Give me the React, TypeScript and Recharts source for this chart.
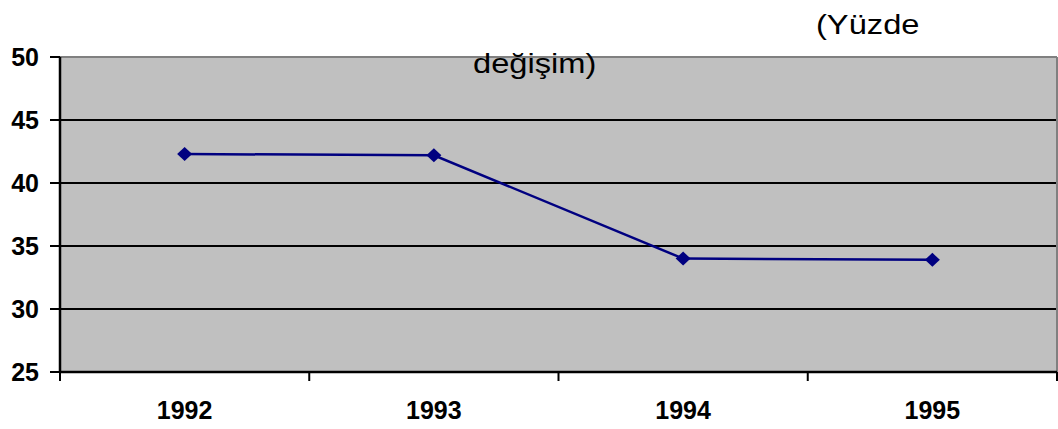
import { LineChart, Line, XAxis, YAxis, CartesianGrid, ReferenceLine } from "recharts";

const years = ["1992", "1993", "1994", "1995"];
const changeValues = [42.3, 42.2, 34.0, 33.9];
const yTicks = [25, 30, 35, 40, 45, 50];
const titleLines = ["(Yüzde", "değişim)"];

const data = years.map((year, i) => ({ pos: i + 0.5, year, value: changeValues[i] }));
const xTicks: number[] = [];
for (let i = 0; i <= years.length * 2; i++) xTicks.push(i / 2);

const font = "'Liberation Sans', Arial, sans-serif";

const XTick = (props: any) => {
    const { x, y, payload } = props;
    const v = payload.value;
    if (Number.isInteger(v)) {
        return <line x1={x} x2={x} y1={y} y2={y + 9} stroke="#000" strokeWidth={2} />;
    }
    const label = years[Math.floor(v)];
    return (
        <text x={x} y={y + 47} textAnchor="middle" fontFamily={font} fontWeight="bold" fontSize={25} fill="#000">
            {label}
        </text>
    );
};

const Diamond = (props: any) => {
    const { cx, cy } = props;
    if (cx == null || cy == null) return null;
    return <path d={`M${cx - 7.5},${cy} L${cx},${cy - 7} L${cx + 7.5},${cy} L${cx},${cy + 7} Z`} fill="#000080" />;
};

export default function App() {
    return (
        <div style={{ position: "absolute", left: 0, top: 0, width: 1058, height: 429, background: "#fff" }}>
            <LineChart width={1058} height={429} data={data} margin={{ top: 57, right: 1, bottom: 0, left: 0 }}>
                <CartesianGrid fill="#C0C0C0" stroke="#000" strokeWidth={2} vertical={false} />
                <ReferenceLine y={50} stroke="#808080" strokeWidth={2} />
                <ReferenceLine x={years.length} stroke="#808080" strokeWidth={2} />
                <XAxis
                    dataKey="pos"
                    type="number"
                    domain={[0, years.length]}
                    ticks={xTicks}
                    interval={0}
                    height={57}
                    tickSize={0}
                    tickMargin={0}
                    tickLine={false}
                    axisLine={{ stroke: "#000", strokeWidth: 2.5 }}
                    tick={<XTick />}
                />
                <YAxis
                    domain={[25, 50]}
                    ticks={yTicks}
                    interval={0}
                    width={60}
                    tickSize={10}
                    tickMargin={11}
                    tickLine={{ stroke: "#000", strokeWidth: 2 }}
                    axisLine={{ stroke: "#000", strokeWidth: 2.5 }}
                    tick={{ fontFamily: font, fontWeight: "bold", fontSize: 25, fill: "#000" }}
                />
                <Line
                    dataKey="value"
                    stroke="#000080"
                    strokeWidth={2.5}
                    dot={<Diamond />}
                    activeDot={false}
                    isAnimationActive={false}
                />
            </LineChart>
            <svg width={1058} height={429} style={{ position: "absolute", left: 0, top: 0, pointerEvents: "none" }}>
                <text transform="translate(816,34) scale(1.21,1)" fontFamily={font} fontSize={27} fill="#000">
                    {titleLines[0]}
                </text>
                <text transform="translate(473,73) scale(1.21,1)" fontFamily={font} fontSize={27} fill="#000">
                    {titleLines[1]}
                </text>
            </svg>
        </div>
    );
}
